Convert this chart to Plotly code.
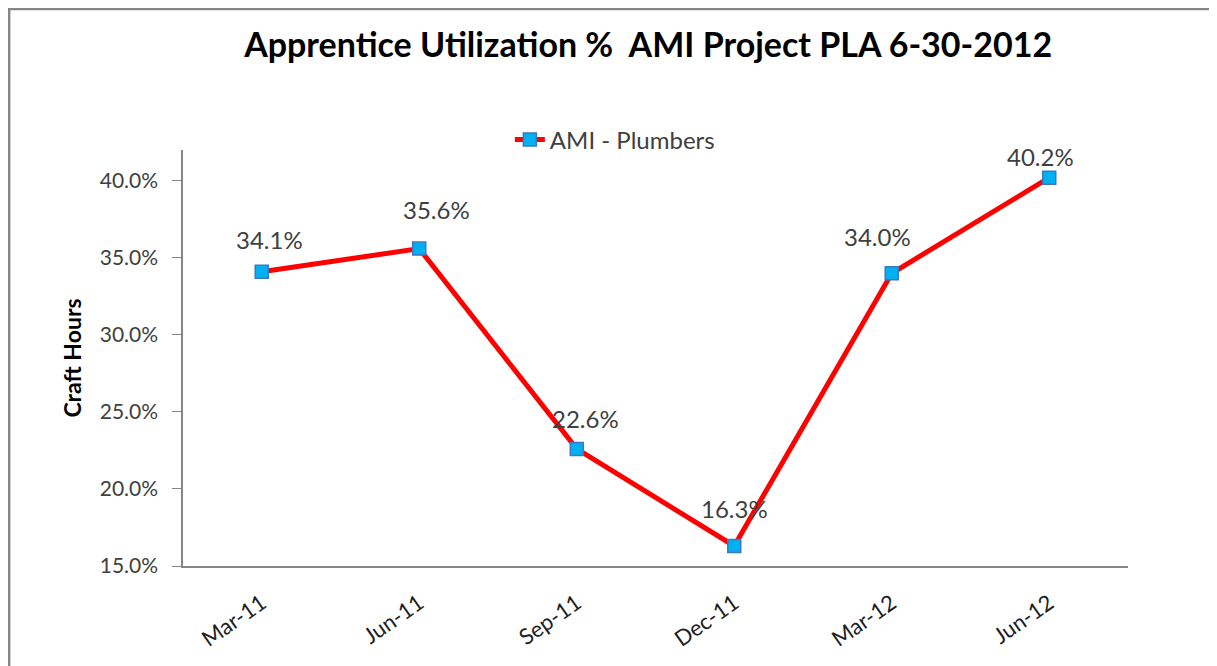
import plotly.graph_objects as go

# apprentice utilization, AMI project PLA
quarters = ["Mar-11", "Jun-11", "Sep-11", "Dec-11", "Mar-12", "Jun-12"]
plumbers = [34.1, 35.6, 22.6, 16.3, 34.0, 40.2]
y_ticks = [15, 20, 25, 30, 35, 40]

# label nudges (px) to mimic the excel label placement
label_dx = [8, 17, 9, 0, -14, -9]
label_dy = [32, 39, 30, 37, 37, 21]

fig = go.Figure()
fig.add_trace(go.Scatter(
    x=quarters, y=plumbers, mode="lines+markers", name="AMI - Plumbers",
    line=dict(color="#ff0000", width=5),
    marker=dict(symbol="square", size=13, color="#00b0f0",
                line=dict(color="#3c78c0", width=1.5)),
))

for q, v, dx, dy in zip(quarters, plumbers, label_dx, label_dy):
    fig.add_annotation(x=q, y=v, text=f"{v:.1f}%", showarrow=False,
                       xshift=dx, yshift=dy,
                       font=dict(family="Lato", size=24, color="#404040"))

# chart border (only top and left edges show in the crop)
fig.add_shape(type="line", xref="paper", yref="paper", x0=-0.19, x1=1.2,
              y0=1.339, y1=1.339, line=dict(color="#868686", width=2.5))
fig.add_shape(type="line", xref="paper", yref="paper", x0=-0.184, x1=-0.184,
              y0=-0.3, y1=1.339, line=dict(color="#868686", width=2.5))

fig.update_layout(
    width=1217, height=666,
    margin={"l": 175, "r": 97, "t": 142, "b": 108},
    paper_bgcolor="white", plot_bgcolor="white",
    title=dict(text="<b>Apprentice Utilization %  AMI Project PLA 6-30-2012</b>",
               x=0.526, xanchor="center", y=0.944, yanchor="middle",
               font=dict(family="Lato", size=34, color="black")),
    showlegend=True,
    legend=dict(orientation="h", x=0.457, xanchor="center", y=1.024, yanchor="middle",
                font=dict(family="Lato", size=24, color="#404040"),
                bgcolor="rgba(0,0,0,0)"),
    font=dict(family="Lato", color="#404040"),
)
fig.update_xaxes(range=[-0.5, 5.5], showline=True, linecolor="#868686", linewidth=1.5,
                 showgrid=False, ticks="", tickangle=-35, ticklabelstandoff=14,
                 tickfont=dict(family="Lato", size=22, color="#202020"))
fig.update_yaxes(range=[15, 42], tickvals=y_ticks,
                 ticktext=[f"{t:.1f}%" for t in y_ticks],
                 showline=True, linecolor="#868686", linewidth=1.5,
                 showgrid=False, ticks="outside", ticklen=9, tickcolor="#868686",
                 ticklabelstandoff=10,
                 tickfont=dict(family="Lato", size=21, color="#404040"),
                 title=dict(text="<b>Craft Hours</b>", standoff=12,
                            font=dict(family="Lato", size=23, color="black")))

fig.write_html("out.html")
